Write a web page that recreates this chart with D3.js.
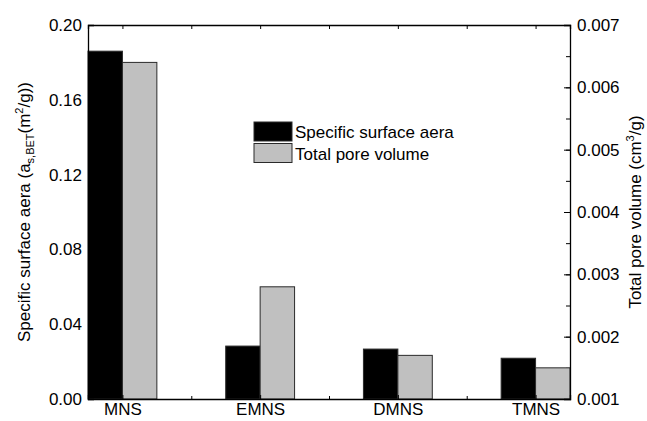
<!DOCTYPE html>
<html>
<head>
<meta charset="utf-8">
<script src="https://cdn.jsdelivr.net/npm/d3@7"></script>
<style>
  body { margin: 0; background: #fff; }
  text { font-family: "Liberation Sans", Arial, sans-serif; fill: #000; }
</style>
</head>
<body>
<div id="chart"></div>
<script>
// sample data
const categories = ['MNS', 'EMNS', 'DMNS', 'TMNS'];
const surfaceArea = [0.186, 0.0283, 0.0267, 0.0218];     // left axis
const poreVolume  = [0.0064, 0.0028, 0.0017, 0.0015];    // right axis
const leftTicks  = [0, 0.04, 0.08, 0.12, 0.16, 0.20];
const rightTicks = [0.001, 0.002, 0.003, 0.004, 0.005, 0.006, 0.007];
const seriesNames = ['Specific surface aera', 'Total pore volume'];

const W = 647, H = 421;
const M = { top: 25, right: 77, bottom: 22, left: 88 };
const iw = W - M.left - M.right, ih = H - M.top - M.bottom;
const BLACK = '#000', GREY = '#c0c0c0', EDGE = '#2a2a2a';
const FS = 17;

const svg = d3.select('#chart').append('svg')
  .attr('width', W).attr('height', H);
const g = svg.append('g').attr('transform', `translate(${M.left},${M.top})`);

const x  = d3.scaleLinear().domain([-0.25, categories.length - 0.75]).range([0, iw]);
const yL = d3.scaleLinear().domain([0, 0.20]).range([ih, 0]);
const yR = d3.scaleLinear().domain([0.001, 0.007]).range([ih, 0]);

// minor ticks first, bars sit over them like in the original
const minorL = d3.range(0, 0.2001, 0.02);
const minorR = d3.range(0.001, 0.00701, 0.0005);
const xMajor = d3.range(categories.length);
const xMinor = d3.range(0.5, categories.length - 0.75, 1);

g.append('g')
  .call(d3.axisLeft(yL).tickValues(minorL).tickSize(-4).tickFormat(''))
  .call(a => a.select('.domain').remove());
g.append('g').attr('transform', `translate(${iw},0)`)
  .call(d3.axisRight(yR).tickValues(minorR).tickSize(-4).tickFormat(''))
  .call(a => a.select('.domain').remove());

// bars
const bw = x(0) - x(-0.25);
g.selectAll('.bar-a').data(surfaceArea).join('rect')
  .attr('class', 'bar-a')
  .attr('x', (d, i) => x(i - 0.25))
  .attr('y', d => yL(d))
  .attr('width', bw)
  .attr('height', d => yL(0) - yL(d))
  .attr('fill', BLACK).attr('stroke', EDGE).attr('stroke-width', 1);

g.selectAll('.bar-b').data(poreVolume).join('rect')
  .attr('class', 'bar-b')
  .attr('x', (d, i) => x(i))
  .attr('y', d => yR(d))
  .attr('width', bw)
  .attr('height', d => yR(0.001) - yR(d))
  .attr('fill', GREY).attr('stroke', EDGE).attr('stroke-width', 1);

// axes
const fmtL = d3.format('.2f'), fmtR = d3.format('.3f');
const axLeft = g.append('g')
  .call(d3.axisLeft(yL).tickValues(leftTicks).tickSize(-6).tickPadding(6).tickFormat(fmtL));
const axRight = g.append('g').attr('transform', `translate(${iw},0)`)
  .call(d3.axisRight(yR).tickValues(rightTicks).tickSize(-6).tickPadding(7).tickFormat(fmtR));
const axBottom = g.append('g').attr('transform', `translate(0,${ih})`)
  .call(d3.axisBottom(x).tickValues(xMajor).tickSize(-4).tickPadding(4)
    .tickFormat(i => categories[i]));
g.append('g').attr('transform', `translate(0,${ih})`)
  .call(d3.axisBottom(x).tickValues(xMinor).tickSize(-3).tickFormat(''))
  .call(a => a.select('.domain').remove());
const axTop = g.append('g')
  .call(d3.axisTop(x).tickValues(xMajor.concat(xMinor)).tickSize(-4).tickFormat(''));

[axLeft, axRight, axBottom, axTop].forEach(a => {
  a.selectAll('.domain').attr('stroke', '#000').attr('stroke-width', 1.3);
  a.selectAll('text').attr('font-size', FS).attr('font-family', '"Liberation Sans", Arial, sans-serif');
});

// axis titles
const lt = svg.append('text')
  .attr('transform', `translate(30,${M.top + ih / 2}) rotate(-90)`)
  .attr('text-anchor', 'middle').attr('font-size', FS);
lt.append('tspan').text('Specific surface aera (a');
lt.append('tspan').attr('font-size', 11).attr('dy', 4).text('s,BET');
lt.append('tspan').attr('dy', -4).text('(m');
lt.append('tspan').attr('font-size', 11).attr('dy', -7).text('2');
lt.append('tspan').attr('dy', 7).text('/g))');

const rt = svg.append('text')
  .attr('transform', `translate(${W - 6},${M.top + ih / 2}) rotate(-90)`)
  .attr('text-anchor', 'middle').attr('font-size', FS);
rt.append('tspan').text('Total pore volume (cm');
rt.append('tspan').attr('font-size', 11).attr('dy', -7).text('3');
rt.append('tspan').attr('dy', 7).text('/g)');

// legend
const leg = svg.append('g').attr('transform', 'translate(254,122)');
[BLACK, GREY].forEach((c, i) => {
  const row = leg.append('g').attr('transform', `translate(0,${i * 21.5})`);
  row.append('rect').attr('width', 38).attr('height', 19)
    .attr('fill', c).attr('stroke', EDGE).attr('stroke-width', 1);
  row.append('text').attr('x', 41).attr('y', 16).attr('font-size', FS).text(seriesNames[i]);
});
</script>
</body>
</html>
